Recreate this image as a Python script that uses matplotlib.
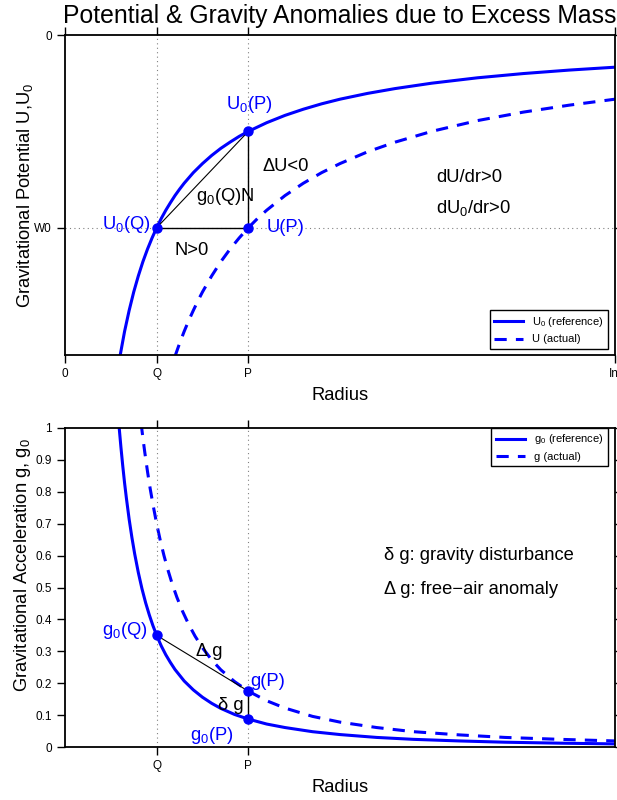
import matplotlib
matplotlib.use("Agg")
import matplotlib.pyplot as plt

plt.rcParams['font.family'] = ['Liberation Sans', 'DejaVu Sans']
plt.rcParams['mathtext.fontset'] = 'custom'
plt.rcParams['mathtext.rm'] = 'Liberation Sans'
plt.rcParams['mathtext.it'] = 'Liberation Sans'

BLUE = '#0000FF'

# --- potential panel (W0 = -1) ---
r_u0 = [0.60, 0.65, 0.70, 0.75, 0.80, 0.85, 0.90, 0.95, 1.00, 1.05, 1.10, 1.15, 1.20,
        1.25, 1.30, 1.40, 1.50, 1.60, 1.70, 1.80, 1.90, 2.00, 2.20, 2.40, 2.60, 2.80,
        3.00, 3.30, 3.60, 4.00, 4.50, 5.00, 5.50, 6.00]
u0 = [-1.667, -1.538, -1.429, -1.333, -1.250, -1.176, -1.111, -1.053, -1.000, -0.952,
      -0.909, -0.870, -0.833, -0.800, -0.769, -0.714, -0.667, -0.625, -0.588, -0.556,
      -0.526, -0.500, -0.455, -0.417, -0.385, -0.357, -0.333, -0.303, -0.278, -0.250,
      -0.222, -0.200, -0.182, -0.167]
r_u = [1.20, 1.25, 1.30, 1.35, 1.40, 1.45, 1.50, 1.60, 1.70, 1.80, 1.90, 2.00, 2.10,
       2.20, 2.40, 2.60, 2.80, 3.00, 3.30, 3.60, 4.00, 4.50, 5.00, 5.50, 6.00]
u = [-1.667, -1.600, -1.538, -1.481, -1.429, -1.379, -1.333, -1.250, -1.176, -1.111,
     -1.053, -1.000, -0.952, -0.909, -0.833, -0.769, -0.714, -0.667, -0.606, -0.556,
     -0.500, -0.444, -0.400, -0.364, -0.333]

# --- gravity panel ---
r_g0 = [0.59, 0.61, 0.63, 0.65, 0.67, 0.70, 0.73, 0.76, 0.80, 0.84, 0.88, 0.92, 0.96,
        1.00, 1.05, 1.10, 1.15, 1.20, 1.30, 1.40, 1.50, 1.60, 1.70, 1.85, 2.00, 2.20,
        2.40, 2.70, 3.00, 3.40, 3.80, 4.30, 4.80, 5.40, 6.00]
g0 = [1.005, 0.941, 0.882, 0.828, 0.780, 0.714, 0.657, 0.606, 0.547, 0.496, 0.452,
      0.414, 0.380, 0.350, 0.317, 0.289, 0.265, 0.243, 0.207, 0.179, 0.156, 0.137,
      0.121, 0.102, 0.0875, 0.072, 0.061, 0.048, 0.039, 0.030, 0.024, 0.019, 0.015,
      0.012, 0.0097]
r_g = [0.83, 0.85, 0.87, 0.90, 0.93, 0.96, 1.00, 1.04, 1.08, 1.12, 1.17, 1.22, 1.28,
       1.35, 1.42, 1.50, 1.60, 1.70, 1.85, 2.00, 2.20, 2.40, 2.70, 3.00, 3.40, 3.80,
       4.30, 4.80, 5.40, 6.00]
g = [1.016, 0.969, 0.925, 0.864, 0.809, 0.760, 0.700, 0.647, 0.600, 0.558, 0.511,
     0.470, 0.427, 0.384, 0.347, 0.311, 0.273, 0.242, 0.205, 0.175, 0.145, 0.122,
     0.096, 0.078, 0.061, 0.048, 0.038, 0.030, 0.024, 0.019]

Q, P, RMAX = 1.0, 2.0, 6.0
W0 = -1.0
u0_P = -0.5
g0_Q, g0_P, g_P = 0.35, 0.0875, 0.175

FS = 13.2

fig = plt.figure(figsize=(6.17, 8.0), dpi=100)
ax1 = fig.add_axes([0.1053, 0.55625, 0.8915, 0.4])
ax2 = fig.add_axes([0.1053, 0.06625, 0.8915, 0.39875])

fig.text(0.551, 0.980, 'Potential & Gravity Anomalies due to Excess Mass',
         ha='center', va='center', fontsize=17.8)

dash = (0, (4, 3))
dot = (0, (1, 3))

# top panel
ax1.plot(r_u0, u0, color=BLUE, lw=2.2, label='$\\mathregular{U_0}$ (reference)')
ax1.plot(r_u, u, color=BLUE, lw=2.2, linestyle=dash, label='U (actual)')
ax1.axvline(Q, color='gray', lw=0.8, ls=dot)
ax1.axvline(P, color='gray', lw=0.8, ls=dot)
ax1.axhline(W0, color='gray', lw=0.8, ls=dot)
ax1.plot([Q, P], [W0, u0_P], color='black', lw=0.8)
ax1.plot([Q, P], [W0, W0], color='black', lw=1.0)
ax1.plot([P, P], [W0, u0_P], color='black', lw=1.0)
ax1.plot([Q, P, P], [W0, u0_P, W0], 'o', color=BLUE, ms=6.5)

ax1.text(2.01, -0.36, '$\\mathregular{U_0}$(P)', color=BLUE, fontsize=FS, ha='center', va='center')
ax1.text(0.93, -0.985, '$\\mathregular{U_0}$(Q)', color=BLUE, fontsize=FS, ha='right', va='center')
ax1.text(2.2, -1.0, 'U(P)', color=BLUE, fontsize=FS, ha='left', va='center')
ax1.text(2.15, -0.68, '\u0394U<0', fontsize=FS, ha='left', va='center')
ax1.text(1.43, -0.84, '$\\mathregular{g_0}$(Q)N', fontsize=FS, ha='left', va='center')
ax1.text(1.19, -1.12, 'N>0', fontsize=FS, ha='left', va='center')
ax1.text(4.05, -0.74, 'dU/dr>0', fontsize=FS, ha='left', va='center')
ax1.text(4.05, -0.90, '$\\mathregular{dU_0}$/dr>0', fontsize=FS, ha='left', va='center')

ax1.set_xlim(0, RMAX)
ax1.set_ylim(-1.66, 0)
ax1.set_xticks([0, Q, P, RMAX])
ax1.set_xticklabels(['0', 'Q', 'P', 'Inf'])
ax1.set_yticks([W0, 0])
ax1.set_yticklabels(['W0', '0'])
ax1.tick_params(top=True, right=True, direction='out', length=6, labelsize=8.5, width=1)
ax1.set_xlabel('Radius', fontsize=FS)
ax1.xaxis.set_label_coords(0.5, -0.10)
ax1.set_ylabel('Gravitational Potential U,$\\mathregular{U_0}$', fontsize=FS, va='center')
ax1.yaxis.set_label_coords(-0.072, 0.5)
leg1 = ax1.legend(loc='lower right', bbox_to_anchor=(0.987, 0.019), fontsize=8,
                  frameon=True, fancybox=False, edgecolor='black', handlelength=2.6,
                  borderaxespad=0.0, framealpha=1)
leg1.get_frame().set_linewidth(1.0)

# bottom panel
ax2.plot(r_g0, g0, color=BLUE, lw=2.2, label='$\\mathregular{g_0}$ (reference)')
ax2.plot(r_g, g, color=BLUE, lw=2.2, linestyle=dash, label='g (actual)')
ax2.axvline(Q, color='gray', lw=0.8, ls=dot)
ax2.axvline(P, color='gray', lw=0.8, ls=dot)
ax2.plot([Q, P], [g0_Q, g_P], color='black', lw=0.8)
ax2.plot([P, P], [g0_P, g_P], color='black', lw=1.0)
ax2.plot([Q, P, P], [g0_Q, g_P, g0_P], 'o', color=BLUE, ms=6.5)

ax2.text(0.90, 0.365, '$\\mathregular{g_0}$(Q)', color=BLUE, fontsize=FS, ha='right', va='center')
ax2.text(2.02, 0.205, 'g(P)', color=BLUE, fontsize=FS, ha='left', va='center')
ax2.text(1.84, 0.035, '$\\mathregular{g_0}$(P)', color=BLUE, fontsize=FS, ha='right', va='center')
ax2.text(1.43, 0.30, '\u0394 g', fontsize=FS, ha='left', va='center')
ax2.text(1.67, 0.13, '\u03b4 g', fontsize=FS, ha='left', va='center')
ax2.text(3.48, 0.60, '\u03b4 g: gravity disturbance', fontsize=FS, ha='left', va='center')
ax2.text(3.48, 0.495, '\u0394 g: free\u2212air anomaly', fontsize=FS, ha='left', va='center')

ax2.set_xlim(0, RMAX)
ax2.set_ylim(0, 1)
ax2.set_xticks([Q, P])
ax2.set_xticklabels(['Q', 'P'])
ax2.set_yticks([i / 10 for i in range(11)])
ax2.set_yticklabels(['0', '0.1', '0.2', '0.3', '0.4', '0.5', '0.6', '0.7', '0.8', '0.9', '1'])
ax2.tick_params(top=True, right=True, direction='out', length=6, labelsize=8.5, width=1)
ax2.set_xlabel('Radius', fontsize=FS)
ax2.xaxis.set_label_coords(0.5, -0.10)
ax2.set_ylabel('Gravitational Acceleration g, $\\mathregular{g_0}$', fontsize=FS, va='center')
ax2.yaxis.set_label_coords(-0.078, 0.57)
leg2 = ax2.legend(loc='upper right', bbox_to_anchor=(0.987, 1.0), fontsize=8,
                  frameon=True, fancybox=False, edgecolor='black', handlelength=2.6,
                  borderaxespad=0.0, framealpha=1)
leg2.get_frame().set_linewidth(1.0)

for ax in (ax1, ax2):
    for s in ax.spines.values():
        s.set_linewidth(1.3)

fig.savefig('out.png', dpi=100)
